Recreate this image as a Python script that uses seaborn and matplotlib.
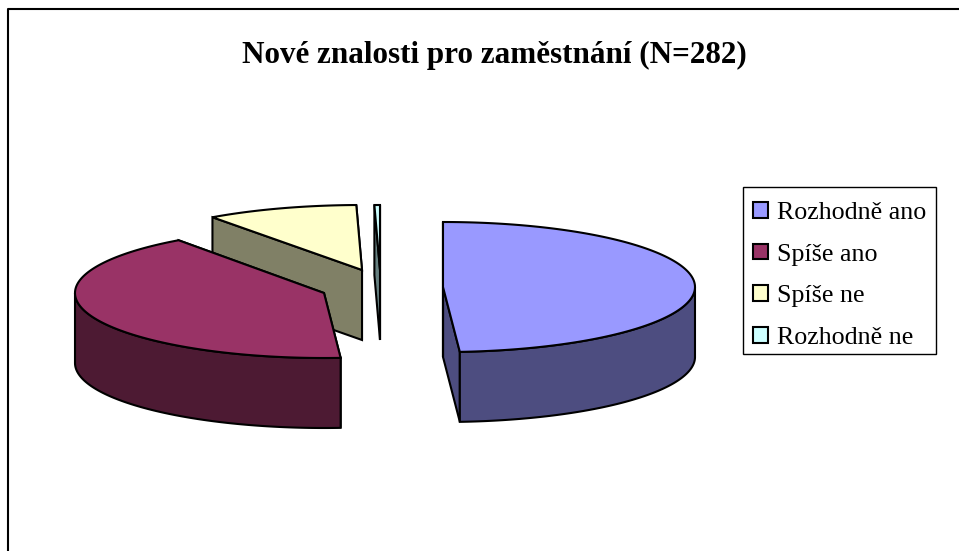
import numpy as np
import pandas as pd
import seaborn as sns
import matplotlib.pyplot as plt
from matplotlib.patches import Patch, Rectangle

# answer counts, N=282
answers = ['Rozhodně ano', 'Spíše ano', 'Spíše ne', 'Rozhodně ne']
counts = [138, 116, 27, 1]
title = 'Nové znalosti pro zaměstnání (N=282)'

sns.set_theme(style='white')
plt.rcParams['font.family'] = ['Liberation Serif', 'DejaVu Serif']

colors = sns.color_palette(['#9999FF', '#993366', '#FFFFCC', '#CCFFFF'])
df = pd.DataFrame({'answer': answers, 'count': counts})
df['angle'] = df['count'] / df['count'].sum() * 360
df['end'] = df['angle'].cumsum()
df['start'] = df['end'] - df['angle']

# pie geometry in pixels: centre x, centre y, horizontal radius
ry, depth = 65, 70
geometry = {'Rozhodně ano': (443, 287, 252), 'Spíše ano': (324, 293, 249),
            'Spíše ne': (362, 270, 256), 'Rozhodně ne': (380, 270, 252)}
edge = dict(edgecolor='black', linewidth=1.5, joinstyle='miter')


def draw_slice(ax, row, color):
    cx, cy, rx = geometry[row['answer']]
    dark = tuple(c * 0.5 for c in color)
    ts = np.linspace(row['start'], row['end'], 200)
    x = cx + rx * np.sin(np.radians(ts))
    y = cy - ry * np.cos(np.radians(ts))
    # cut walls, end one first
    for i in (-1, 0):
        ax.fill([cx, x[i], x[i], cx], [cy, y[i], y[i] + depth, cy + depth],
                facecolor=dark, **edge)
    # outer wall, only the part facing the viewer
    front = (ts >= 90) & (ts <= 270)
    if front.any():
        fx, fy = x[front], y[front]
        ax.fill(np.r_[fx, fx[::-1]], np.r_[fy, fy[::-1] + depth],
                facecolor=dark, **edge)
    ax.fill(np.r_[cx, x], np.r_[cy, y], facecolor=color, **edge)


fig, ax = plt.subplots(figsize=(9.59, 5.51), dpi=100)
fig.subplots_adjust(0, 0, 1, 1)
ax.set_xlim(0, 959)
ax.set_ylim(551, 0)
ax.axis('off')

# frame of the chart, open at right and bottom
ax.plot([7.5, 7.5, 959], [551, 8.5, 8.5], color='black', linewidth=1.5)

for idx in [2, 3, 1, 0]:
    draw_slice(ax, df.iloc[idx], colors[idx])

ax.text(494.5, 55, title, ha='center', va='center', fontsize=22.4, fontweight='bold', color='black')

# legend box drawn apart, the entries sit low in it
ax.add_patch(Rectangle((743, 187), 193, 167, facecolor='white', edgecolor='black', linewidth=1))
handles = [Patch(facecolor=c, edgecolor='black', linewidth=1.5) for c in colors]
leg = ax.legend(handles, answers, loc='upper left', bbox_to_anchor=(743 / 959, 1 - 191.5 / 551),
                fontsize=18.7, frameon=False,
                handlelength=0.55, handleheight=0.55, handletextpad=0.35,
                labelspacing=0.76, borderpad=0.4, borderaxespad=0)
for t in leg.get_texts():
    t.set_color('black')

plt.savefig('out.png', dpi=100)
